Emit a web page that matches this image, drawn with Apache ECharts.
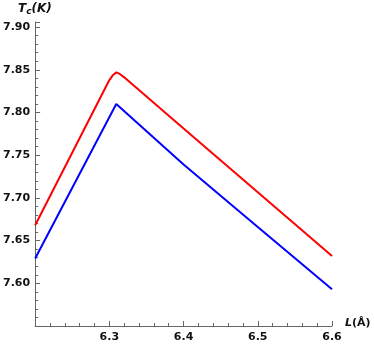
<!DOCTYPE html>
<html>
<head>
<meta charset="utf-8">
<script src="https://cdn.jsdelivr.net/npm/echarts@6/dist/echarts.min.js"></script>
<style>html,body{margin:0;padding:0;background:#fff}#c{width:374px;height:344px}</style>
</head>
<body>
<div id="c"></div>
<script>
var redX = [6.2, 6.300, 6.305, 6.3095, 6.314, 6.320, 6.4, 6.5, 6.6];
var redY = [7.668, 7.838, 7.844, 7.847, 7.8452, 7.8412, 7.7812, 7.7065, 7.632];
var blueX = [6.2, 6.3093, 6.4, 6.5, 6.6];
var blueY = [7.629, 7.810, 7.739, 7.666, 7.593];
var xTicks = [6.3, 6.4, 6.5, 6.6];
var yTicks = [7.60, 7.65, 7.70, 7.75, 7.80, 7.85, 7.90];

function pairs(xs, ys){ return xs.map(function(x,i){return [x, ys[i]];}); }

var chart = echarts.init(document.getElementById('c'));
var lblStyle = {fontFamily:'DejaVu Sans', fontWeight:'bold', fontSize:11, color:'#111'};
var axisCol = '#666';
chart.setOption({
  animation:false,
  grid:{left:33, right:42, top:22, bottom:18},
  xAxis:{
    type:'value', min:6.2, max:6.6, interval:0.1,
    axisLine:{show:true, onZero:false, lineStyle:{color:axisCol, width:1}},
    axisTick:{show:true, inside:true, length:5, lineStyle:{color:axisCol, width:1}},
    minorTick:{show:true, splitNumber:5, length:3, lineStyle:{color:axisCol, width:1}},
    splitLine:{show:false},
    axisLabel:Object.assign({margin:6, showMinLabel:false, formatter:function(v){
      for (var i=0;i<xTicks.length;i++) if (Math.abs(v-xTicks[i])<1e-6) return xTicks[i].toFixed(1);
      return '';
    }}, lblStyle)
  },
  yAxis:{
    type:'value', min:7.55, max:7.906, interval:0.05,
    axisLine:{show:true, onZero:false, lineStyle:{color:axisCol, width:1}},
    axisTick:{show:true, inside:true, length:5, lineStyle:{color:axisCol, width:1}},
    minorTick:{show:true, splitNumber:5, length:3, lineStyle:{color:axisCol, width:1}},
    splitLine:{show:false},
    axisLabel:Object.assign({margin:5, formatter:function(v){
      for (var i=0;i<yTicks.length;i++) if (Math.abs(v-yTicks[i])<1e-6) return yTicks[i].toFixed(2);
      return '';
    }}, lblStyle)
  },
  graphic:[
    {type:'text', left:18, top:3, style:{
      text:'{t|T}{s|c}{t|(K)}',
      rich:{
        t:{fontFamily:'DejaVu Sans', fontWeight:'bold', fontStyle:'italic', fontSize:12, fill:'#111'},
        s:{fontFamily:'DejaVu Sans', fontWeight:'bold', fontStyle:'italic', fontSize:9, fill:'#111', verticalAlign:'bottom', padding:[6,0,0,0]}
      }
    }},
    {type:'text', left:345, top:318, style:{
      text:'{i|L}{t|(Å)}',
      rich:{
        i:{fontFamily:'DejaVu Sans', fontWeight:'bold', fontStyle:'italic', fontSize:11, fill:'#111'},
        t:{fontFamily:'DejaVu Sans', fontWeight:'bold', fontSize:11, fill:'#111'}
      }
    }}
  ],
  series:[
    {type:'line', data:pairs(redX, redY), showSymbol:false, smooth:false,
     lineStyle:{color:'#ff0000', width:2}, itemStyle:{color:'#ff0000'}},
    {type:'line', data:pairs(blueX, blueY), showSymbol:false, smooth:false,
     lineStyle:{color:'#0000ff', width:2}, itemStyle:{color:'#0000ff'}}
  ]
});
</script>
</body>
</html>
